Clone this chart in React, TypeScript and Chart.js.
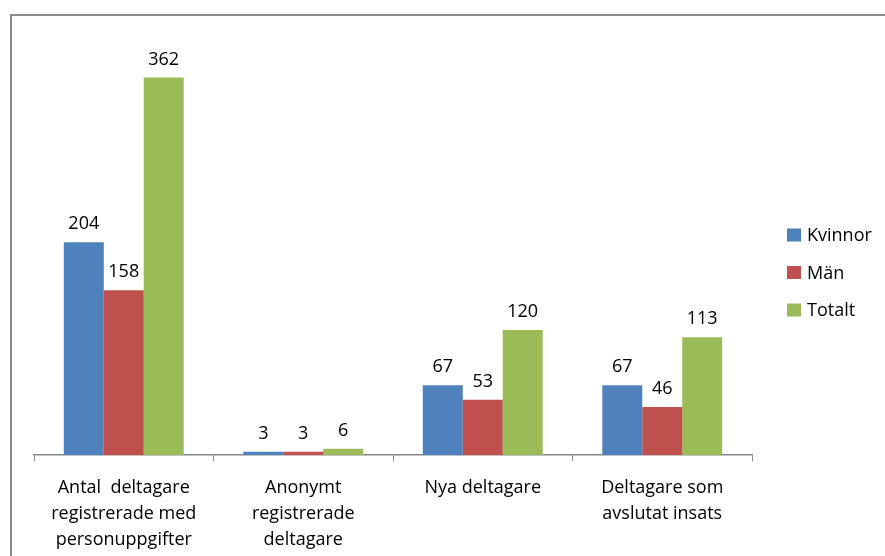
import React, { useEffect, useRef } from "react";
import { Chart, registerables } from "chart.js";

Chart.register(...registerables);

const categories: string[][] = [
  ["Antal  deltagare", "registrerade med", "personuppgifter"],
  ["Anonymt", "registrerade", "deltagare"],
  ["Nya deltagare"],
  ["Deltagare som", "avslutat insats"],
];
const seriesNames = ["Kvinnor", "Män", "Totalt"];
const kvinnor = [204, 3, 67, 67];
const man = [158, 3, 53, 46];
const totalt = [362, 6, 120, 113];
const seriesColors = ["#4F81BD", "#C0504D", "#9BBB59"];
const yMax = 400;

const FONT = "'Open Sans', sans-serif";

const framePlugin = {
  id: "frame",
  beforeDraw(chart: any) {
    const ctx = chart.ctx;
    ctx.save();
    ctx.fillStyle = "#ffffff";
    ctx.fillRect(0, 0, chart.width, chart.height);
    ctx.strokeStyle = "#8a8a8a";
    ctx.lineWidth = 2;
    ctx.beginPath();
    ctx.moveTo(11, chart.height + 10);
    ctx.lineTo(11, 15);
    ctx.lineTo(chart.width + 10, 15);
    ctx.stroke();
    ctx.restore();
  },
};

const valueLabelPlugin = {
  id: "valueLabels",
  afterDatasetsDraw(chart: any) {
    const ctx = chart.ctx;
    ctx.save();
    ctx.font = `18px ${FONT}`;
    ctx.fillStyle = "#000000";
    ctx.textAlign = "center";
    ctx.textBaseline = "alphabetic";
    chart.data.datasets.forEach((ds: any, i: number) => {
      const meta = chart.getDatasetMeta(i);
      meta.data.forEach((el: any, j: number) => {
        ctx.fillText(String(ds.data[j]), el.x, el.y - 13);
      });
    });
    ctx.restore();
  },
};

const legendPlugin = {
  id: "customLegend",
  afterDraw(chart: any) {
    const ctx = chart.ctx;
    const x = 787;
    const y0 = 235;
    const step = 37.5;
    ctx.save();
    ctx.font = `18px ${FONT}`;
    ctx.textAlign = "left";
    ctx.textBaseline = "middle";
    chart.data.datasets.forEach((ds: any, i: number) => {
      const cy = y0 + i * step;
      ctx.fillStyle = ds.backgroundColor;
      ctx.fillRect(x, cy - 6.5, 14, 13);
      ctx.fillStyle = "#000000";
      ctx.fillText(ds.label, x + 20, cy + 1);
    });
    ctx.restore();
  },
};

export default function App() {
  const canvasRef = useRef<HTMLCanvasElement | null>(null);

  useEffect(() => {
    if (!canvasRef.current) return;
    const chart = new Chart(canvasRef.current, {
      type: "bar",
      data: {
        labels: categories,
        datasets: [
          { label: seriesNames[0], data: kvinnor, backgroundColor: seriesColors[0] },
          { label: seriesNames[1], data: man, backgroundColor: seriesColors[1] },
          { label: seriesNames[2], data: totalt, backgroundColor: seriesColors[2] },
        ],
      },
      options: {
        responsive: false,
        animation: false,
        devicePixelRatio: 1,
        layout: { padding: { left: 34, right: 133, top: 38, bottom: 0 } },
        datasets: {
          bar: { categoryPercentage: 0.668, barPercentage: 1, borderWidth: 0 },
        } as any,
        plugins: {
          legend: { display: false },
          tooltip: { enabled: false },
        },
        scales: {
          x: {
            offset: true,
            grid: {
              display: true,
              offset: true,
              drawOnChartArea: false,
              drawTicks: true,
              tickLength: 6,
              color: "#868686",
              lineWidth: 1,
            },
            border: { display: true, color: "#868686", width: 1.5 },
            ticks: {
              color: "#000000",
              font: { family: FONT, size: 18, lineHeight: 1.44 },
              padding: 14,
              maxRotation: 0,
              minRotation: 0,
              autoSkip: false,
            },
            afterFit: (s: any) => {
              s.height = 101;
            },
          },
          y: {
            display: false,
            min: 0,
            max: yMax,
          },
        },
      },
      plugins: [framePlugin, valueLabelPlugin, legendPlugin],
    });
    return () => chart.destroy();
  }, []);

  return (
    <div style={{ position: "absolute", left: 0, top: 0, width: 885, height: 556, background: "#fff" }}>
      <canvas ref={canvasRef} width={885} height={556} style={{ display: "block", width: 885, height: 556 }} />
    </div>
  );
}
